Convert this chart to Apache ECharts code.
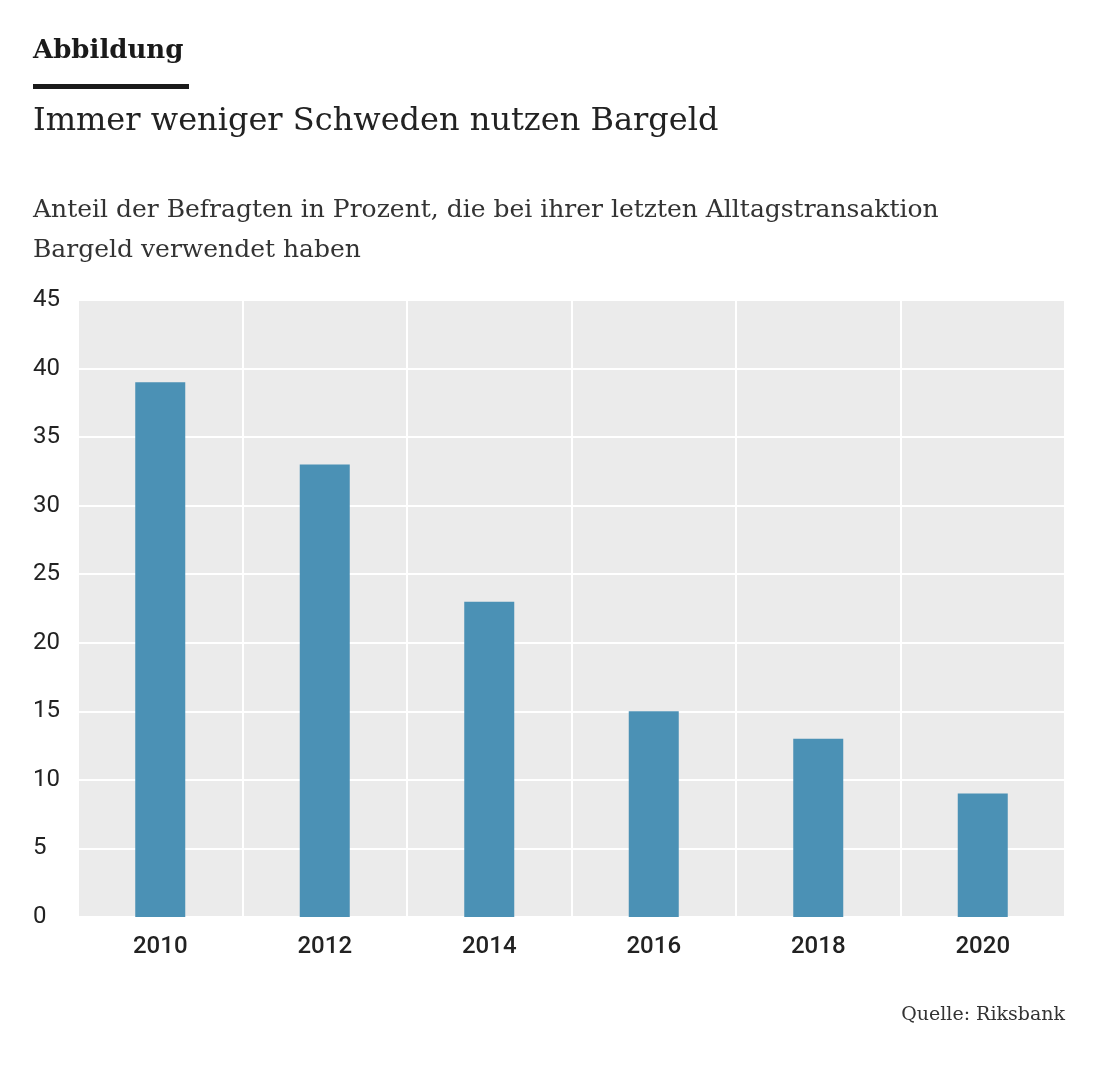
<!DOCTYPE html>
<html>
<head>
    <meta charset="utf-8"/>
    <title>Bargeld</title>
    <style>
        body{ margin:0; background:#fff; }
        #main{ width:1117px; height:1066px; }
    </style>
    <script src="https://cdn.jsdelivr.net/npm/echarts@6/dist/echarts.min.js"></script>
</head>
<body>
<div id="main"></div>
<script type="text/javascript">
    var years = ['2010', '2012', '2014', '2016', '2018', '2020'];
    var share = [39, 33, 23, 15, 13, 9];
    var serif = 'DejaVu Serif';

    var myChart = echarts.init(document.getElementById('main'));
    var option = {
        backgroundColor: '#fff',
        animation: false,
        graphic: [
            { type: 'text', left: 33, top: 38, style: { text: 'Abbildung', font: 'bold 26px ' + serif, fill: '#1a1a1a' } },
            { type: 'rect', left: 33, top: 84, shape: { width: 156, height: 5 }, style: { fill: '#1a1a1a' } },
            { type: 'text', left: 33, top: 106, style: { text: 'Immer weniger Schweden nutzen Bargeld', font: '32px ' + serif, fill: '#222' } },
            { type: 'text', left: 33, top: 190, style: { text: 'Anteil der Befragten in Prozent, die bei ihrer letzten Alltagstransaktion\nBargeld verwendet haben', font: '25px ' + serif, fill: '#333', lineHeight: 40 } },
            { type: 'text', right: 52, top: 1006, style: { text: 'Quelle: Riksbank', font: '19px ' + serif, fill: '#333' } }
        ],
        grid: {
            left: 78, right: 52, top: 300, bottom: 149,
            show: true, backgroundColor: '#ebebeb', borderWidth: 0
        },
        xAxis: {
            type: 'category',
            data: years,
            axisLine: { show: false },
            axisTick: { show: false },
            axisLabel: { color: '#222', fontSize: 24, fontFamily: 'Roboto', fontWeight: 500, margin: 18 },
            splitLine: { show: true, lineStyle: { color: '#fff', width: 2 } }
        },
        yAxis: {
            type: 'value',
            min: 0, max: 45, interval: 5,
            axisLine: { show: false },
            axisTick: { show: false },
            axisLabel: { color: '#222', fontSize: 24, fontFamily: 'Roboto', align: 'left', margin: 45 },
            splitLine: { lineStyle: { color: '#fff', width: 2 } }
        },
        series: [{
            type: 'bar',
            data: share,
            barWidth: 50,
            itemStyle: { color: '#4b91b5' }
        }]
    };
    myChart.setOption(option);
</script>
</body>
</html>
